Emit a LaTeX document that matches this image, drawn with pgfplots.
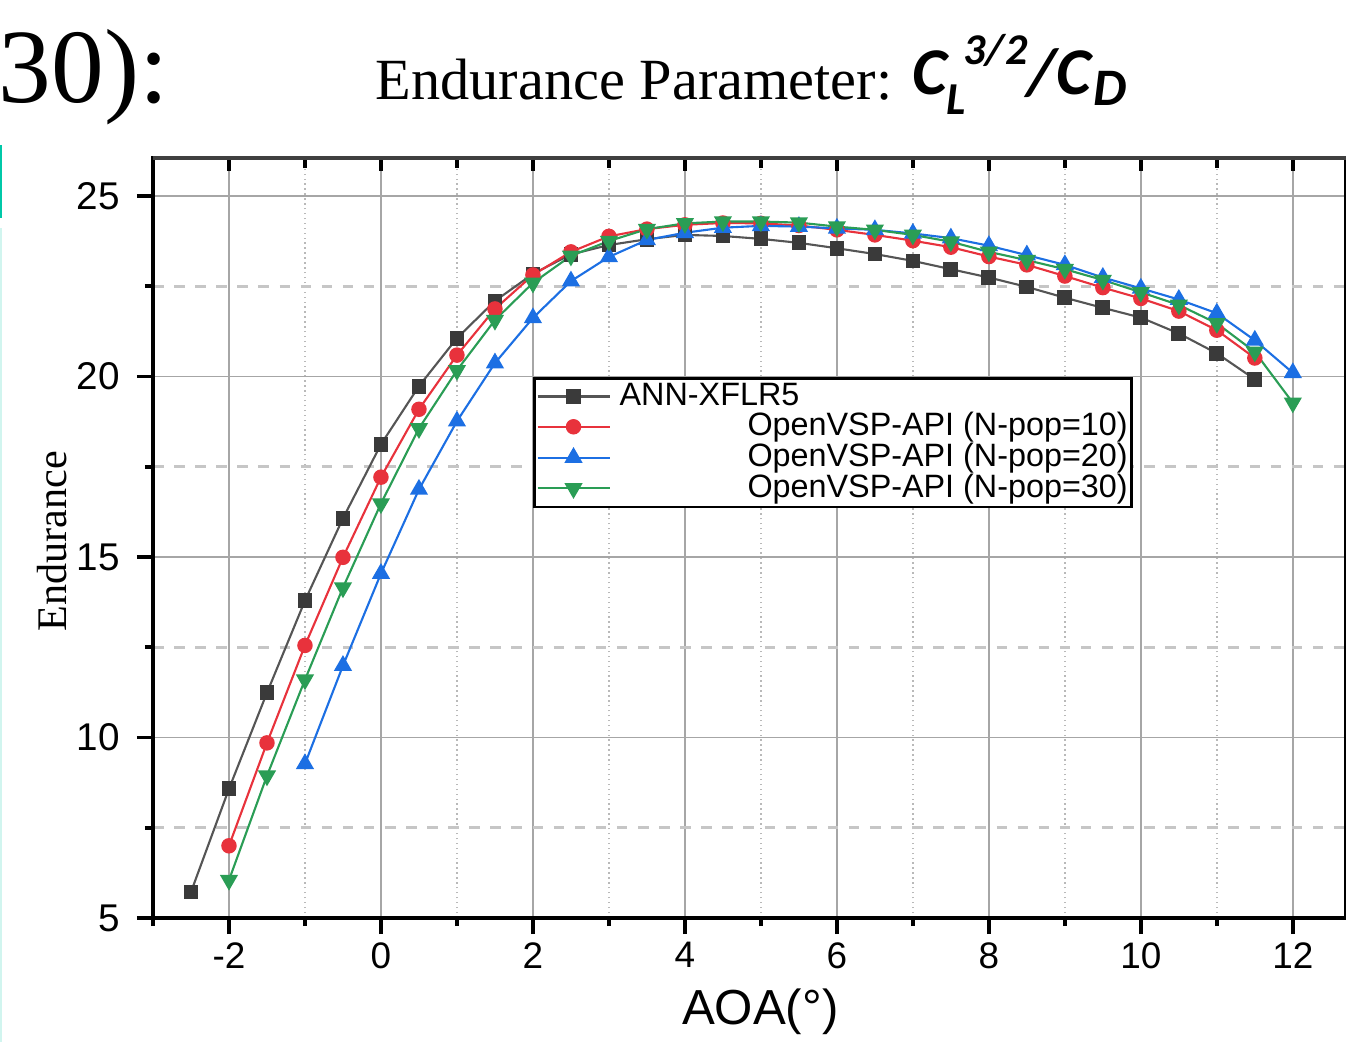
\documentclass[border=0pt]{standalone}
\usepackage{pgfplots}
\pgfplotsset{compat=1.18}
\usepackage{fontspec}
\setmainfont{Liberation Serif}
\setsansfont{Liberation Sans}
\newfontfamily\carl{Carlito}

\definecolor{annblk}{HTML}{3A3A3A}
\definecolor{annline}{HTML}{555555}
\definecolor{vspred}{HTML}{E8323C}
\definecolor{vspblue}{HTML}{1C6FE3}
\definecolor{vspgreen}{HTML}{2A9D55}
\definecolor{edgeteal}{HTML}{00C8A8}

\begin{document}
\begin{tikzpicture}
\useasboundingbox (-1.53,-1.24) rectangle (11.93,9.18);

% stray page-edge marks of the screenshot
\fill[edgeteal] (-1.53,7.00) rectangle (-1.51,7.73);
\fill[edgeteal!18] (-1.53,-1.24) rectangle (-1.51,6.90);

% heading
\node[anchor=base west, inner sep=0pt, font=\fontsize{30}{32}\selectfont] at (-1.55,8.15) {30):};
\node[anchor=base west, inner sep=0pt, font=\fontsize{16.6}{20}\selectfont] at (2.22,8.18) {Endurance Parameter:};
\begin{scope}[every node/.style={anchor=base west, inner sep=0pt}]
\node[font=\carl\bfseries\itshape\fontsize{19}{20}\selectfont] at (7.59,8.23) {C};
\node[font=\carl\bfseries\itshape\fontsize{13}{14}\selectfont] at (7.93,8.03) {L};
\node[font=\carl\bfseries\itshape\fontsize{12.5}{14}\selectfont] at (8.10,8.53) {3/2};
\node[font=\carl\bfseries\itshape\fontsize{19}{20}\selectfont] at (8.74,8.23) {/C};
\node[font=\carl\bfseries\itshape\fontsize{15}{16}\selectfont] at (9.40,8.12) {D};
\end{scope}

\begin{axis}[
    at={(0,0)}, anchor=south west,
    scale only axis,
    width=11.93cm, height=7.60cm,
    xmin=-3, xmax=12.7,
    ymin=5, ymax=26.05,
    xtick={-2,0,...,12},
    minor xtick={-3,-1,...,11},
    ytick={5,10,...,25},
    minor ytick={7.5,12.5,17.5,22.5},
    grid=both,
    major grid style={gray!70, line width=0.5pt},
    minor x grid style={gray!55, densely dotted, line width=0.4pt},
    minor y grid style={gray!45, dashed, line width=0.8pt},
    xtick pos=bottom, ytick pos=left,
    tick align=outside,
    major tick length=1.6mm, minor tick length=0.8mm,
    tick style={black, line width=1.1pt},
    axis line style={black, line width=1.1pt},
    ticklabel style={font=\sffamily\fontsize{10.5}{12}\selectfont},
    xticklabel style={yshift=0.4mm},
    yticklabel style={xshift=-0.5mm, font=\sffamily\fontsize{11}{12}\selectfont},
    /pgf/number format/assume math mode=true,
    xlabel={AOA(°)},
    xlabel style={font=\sffamily\fontsize{14}{16}\selectfont,
        at={(axis description cs:0.509,-0.1237)}, anchor=center},
    ylabel={Endurance},
    ylabel style={font=\fontsize{12}{14}\selectfont,
        at={(axis description cs:-0.0847,0.496)}, anchor=center},
    legend style={
        at={(axis cs:2,19.98)}, anchor=north west,
        draw=black, line width=0.8pt,
        fill=white,
        font=\sffamily\fontsize{9.2}{10}\selectfont,
        inner sep=0.6pt,
        nodes={inner sep=0.6pt},
        row sep=-0.6pt,
    },
    legend cell align=left,
    legend image code/.code={
        \draw[mark repeat=2, mark phase=2]
            plot coordinates {(0cm,0cm) (0.36cm,0cm) (0.72cm,0cm)};
    },
]

% ANN-XFLR5
\addplot[color=annline, line width=0.6pt, mark=square*,
    mark size=1.8pt, mark options={fill=annblk, draw=annblk}] coordinates {
    (-2.5,5.72) (-2,8.58) (-1.5,11.24) (-1,13.79) (-0.5,16.07) (0,18.12)
    (0.5,19.73) (1,21.06) (1.5,22.09) (2,22.84) (2.5,23.38) (3,23.64)
    (3.5,23.80) (4,23.92) (4.5,23.89) (5,23.81) (5.5,23.70) (6,23.55)
    (6.5,23.39) (7,23.20) (7.5,22.97) (8,22.74) (8.5,22.48) (9,22.18)
    (9.5,21.90) (10,21.63) (10.5,21.19) (11,20.64) (11.5,19.92)
};
\addlegendentry{\makebox[51.5mm][l]{\hspace{0.7mm}ANN-XFLR5}}

% N-pop = 10
\addplot[color=vspred, line width=0.6pt, mark=*,
    mark size=1.9pt] coordinates {
    (-2,7.00) (-1.5,9.85) (-1,12.55) (-0.5,14.99) (0,17.21) (0.5,19.09)
    (1,20.59) (1.5,21.87) (2,22.81) (2.5,23.45) (3,23.88) (3.5,24.08)
    (4,24.20) (4.5,24.25) (5,24.24) (5.5,24.18) (6,24.06) (6.5,23.92)
    (7,23.76) (7.5,23.58) (8,23.32) (8.5,23.09) (9,22.78) (9.5,22.46)
    (10,22.16) (10.5,21.81) (11,21.28) (11.5,20.51)
};
\addlegendentry{\makebox[51.5mm][r]{OpenVSP-API (N-pop=10)}}

% N-pop = 20
\addplot[color=vspblue, line width=0.6pt, mark=triangle*,
    mark size=2.4pt] coordinates {
    (-1,9.27) (-0.5,11.99) (0,14.54) (0.5,16.87) (1,18.76) (1.5,20.37)
    (2,21.62) (2.5,22.64) (3,23.31) (3.5,23.78) (4,23.98) (4.5,24.12)
    (5,24.17) (5.5,24.15) (6,24.10) (6.5,24.06) (7,23.96) (7.5,23.83)
    (8,23.62) (8.5,23.36) (9,23.09) (9.5,22.74) (10,22.44) (10.5,22.13)
    (11,21.75) (11.5,21.00) (12,20.10)
};
\addlegendentry{\makebox[51.5mm][r]{OpenVSP-API (N-pop=20)}}

% N-pop = 30
\addplot[color=vspgreen, line width=0.6pt, mark=triangle*,
    mark size=2.4pt, mark options={rotate=180}] coordinates {
    (-2,6.05) (-1.5,8.94) (-1,11.60) (-0.5,14.15) (0,16.48) (0.5,18.56)
    (1,20.17) (1.5,21.56) (2,22.59) (2.5,23.34) (3,23.75) (3.5,24.08)
    (4,24.24) (4.5,24.29) (5,24.29) (5.5,24.26) (6,24.15) (6.5,24.06)
    (7,23.92) (7.5,23.73) (8,23.45) (8.5,23.22) (9,22.97) (9.5,22.67)
    (10,22.33) (10.5,21.98) (11,21.47) (11.5,20.68) (12,19.27)
};
\addlegendentry{\makebox[51.5mm][r]{OpenVSP-API (N-pop=30)}}

\end{axis}

% inward ticks along the top edge
\begin{axis}[
    at={(0,0)}, anchor=south west,
    scale only axis,
    width=11.93cm, height=7.60cm,
    xmin=-3, xmax=12.7,
    ymin=5, ymax=26.05,
    axis x line*=top,
    axis y line=none,
    xtick={-2,0,...,12},
    minor xtick={-3,-1,...,11},
    xticklabels={},
    tick align=inside,
    major tick length=1.3mm, minor tick length=1.0mm,
    tick style={black, line width=1.1pt},
    axis line style={black!75, line width=1.3pt},
]
\end{axis}
\end{tikzpicture}
\end{document}
